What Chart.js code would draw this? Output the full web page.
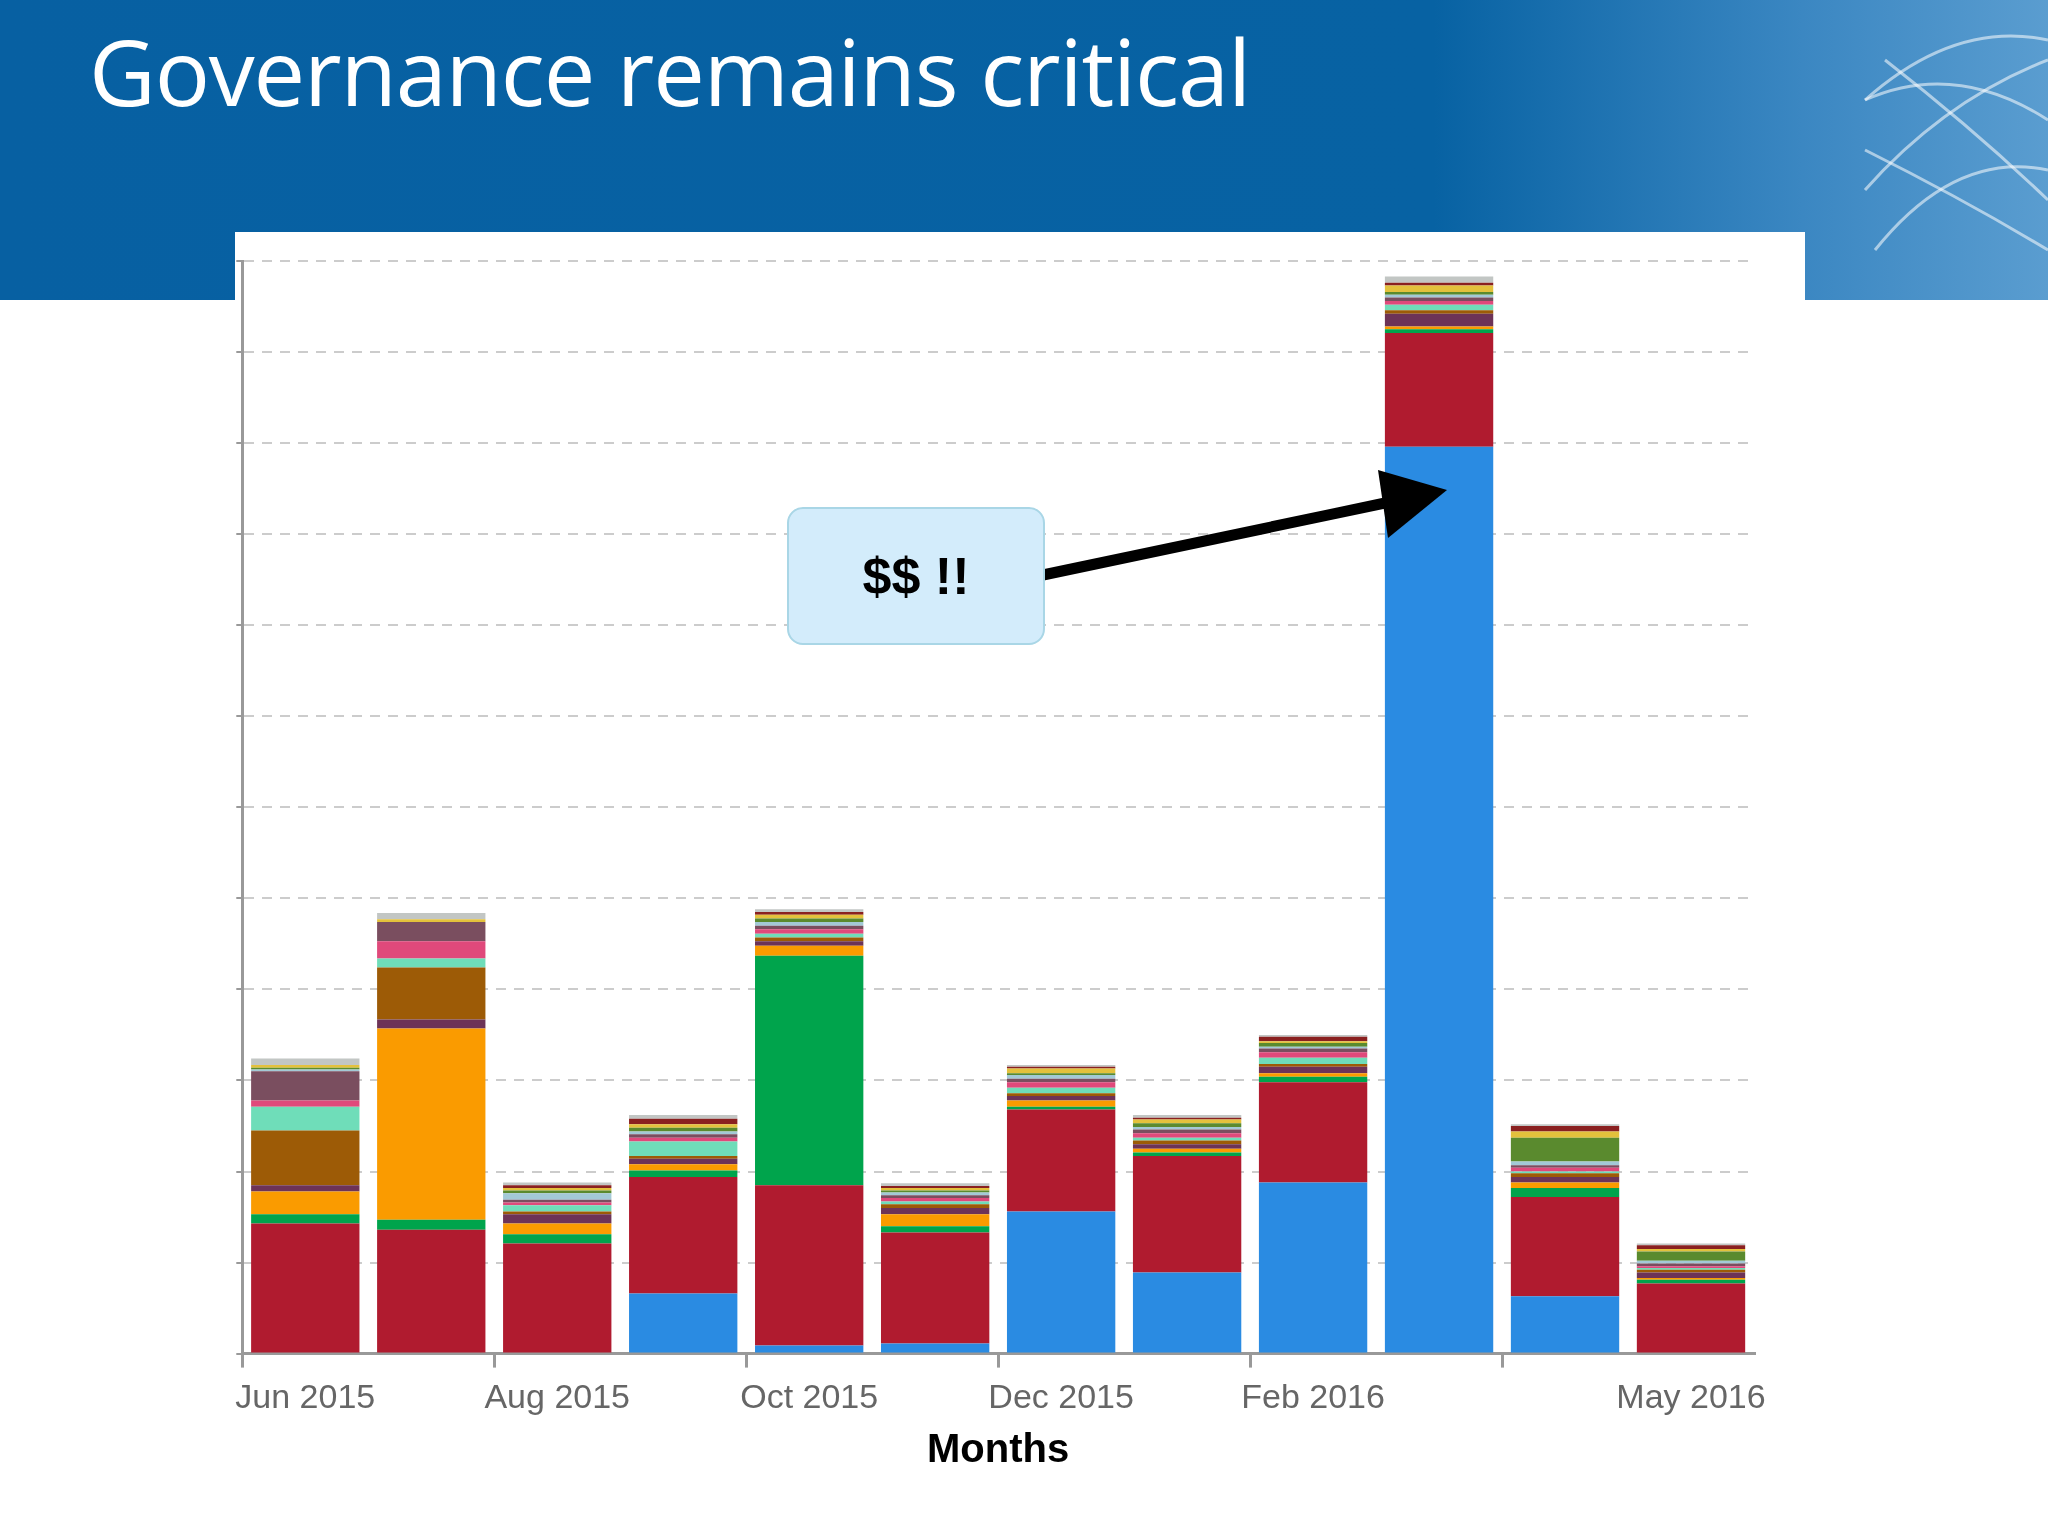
<!DOCTYPE html>
<html><head><meta charset="utf-8">
<script src="https://cdn.jsdelivr.net/npm/chart.js@4/dist/chart.umd.min.js"></script>
<style>
html,body{margin:0;padding:0;width:2048px;height:1536px;overflow:hidden;background:#fff;font-family:"Liberation Sans",Arial,sans-serif}
#hdr{position:absolute;left:0;top:0;width:2048px;height:300px;background:linear-gradient(90deg,#0760a2 0%,#0762a3 70%,#3b87c2 88%,#5a9dd0 100%)}
#title{position:absolute;left:89px;top:8px;color:#fff;font-family:"Open Sans",sans-serif;font-size:92px;letter-spacing:-1.2px}
#panel{position:absolute;left:235px;top:232px;width:1570px;height:1304px;background:#fff}
#c{position:absolute;left:-4px;top:0}
#deco{position:absolute;left:1805px;top:0;width:243px;height:300px}
#ov{position:absolute;left:0;top:0;width:2048px;height:1536px;pointer-events:none}
#box{position:absolute;left:787px;top:507px;width:254px;height:134px;background:#d3ecfb;border:2px solid #a9d6e6;border-radius:16px;display:flex;align-items:center;justify-content:center;font:bold 52px "Liberation Sans",Arial,sans-serif;color:#000}
</style></head><body>
<div id="hdr"></div>
<svg id="deco" viewBox="0 0 243 300"><g fill="none" stroke="rgba(255,255,255,0.55)" stroke-width="3">
<path d="M60 100 Q150 20 243 40"/><path d="M60 100 Q150 60 243 120"/><path d="M60 190 Q140 100 243 60"/><path d="M70 250 Q150 150 243 170"/><path d="M60 150 Q160 200 243 250"/><path d="M80 60 Q170 130 243 200"/></g></svg>
<div id="title">Governance remains critical</div>
<div id="panel"><canvas id="c" width="1574" height="1304"></canvas></div>
<svg id="ov" viewBox="0 0 2048 1536">
<line x1="1043" y1="575" x2="1390" y2="502" stroke="#000" stroke-width="11"/>
<polygon points="1447,490 1378,470 1388,538" fill="#000"/>
</svg>
<div id="box">$$ !!</div>
<script>
const months=["Jun 2015","Jul 2015","Aug 2015","Sep 2015","Oct 2015","Nov 2015","Dec 2015","Jan 2016","Feb 2016","Mar 2016","Apr 2016","May 2016"];
const shownLabels=["Jun 2015","Aug 2015","Oct 2015","Dec 2015","Feb 2016","May 2016"];
const blue=[0,0,0,.66,.09,.11,1.56,.89,1.88,9.96,.63,0];
const red=[1.43,1.36,1.21,1.28,1.76,1.22,1.12,1.28,1.10,1.25,1.09,.77];
const green=[.10,.11,.10,.07,2.52,.07,.03,.04,.06,.04,.10,.04];
const orange=[.25,2.1,.12,.07,.11,.13,.07,.04,.04,.03,.06,.02];
const plum=[.07,.10,.10,.06,.05,.07,.05,.05,.07,.14,.06,.06];
const brown=[.60,.57,.03,.03,.04,.04,.03,.04,.03,.04,.04,.03];
const mint=[.26,.10,.07,.16,.04,.03,.06,.03,.07,.06,.02,.02];
const pink=[.07,.19,.03,.04,.05,.04,.06,.05,.06,.04,.04,.02];
const mauve=[.32,.21,.03,.04,.04,.03,.04,.04,.04,.04,.03,.03];
const lightblue=[.02,0,.07,.03,.04,.03,.04,.03,.02,.03,.04,.03];
const olive=[.02,0,.03,.04,.04,.02,.02,.04,.04,.03,.26,.10];
const yellow=[.03,.03,.03,.04,.04,.03,.05,.04,.02,.07,.07,.03];
const darkred=[0,0,.03,.06,.03,.02,.02,.02,.05,.03,.06,.04];
const gray=[.07,.07,.03,.04,.03,.03,.02,.03,.02,.07,.02,.02];
const series=[["blue",blue,"#2a8be2"],["red",red,"#b01b2f"],["green",green,"#00a44c"],["orange",orange,"#fa9b00"],["plum",plum,"#6d3357"],["brown",brown,"#9d5b06"],["mint",mint,"#6fddb9"],["pink",pink,"#e0497b"],["mauve",mauve,"#7a4e5f"],["lightblue",lightblue,"#a3c9d6"],["olive",olive,"#5a8a2e"],["yellow",yellow,"#e3c13c"],["darkred",darkred,"#8a2020"],["gray",gray,"#c2c6c4"]];
new Chart(document.getElementById('c'),{type:'bar',
data:{labels:months,datasets:series.map(s=>({label:s[0],data:s[1],backgroundColor:s[2],borderWidth:0,barPercentage:0.86,categoryPercentage:1}))},
options:{responsive:false,animation:false,layout:{padding:{left:2,top:29,right:51,bottom:57}},
plugins:{legend:{display:false},tooltip:{enabled:false}},
scales:{
x:{stacked:true,offset:true,
 grid:{offset:true,drawOnChartArea:false,tickLength:14,lineWidth:3,color:c=>(c.index%2===0||c.index===12)?'#999':'rgba(0,0,0,0)'},
 border:{color:'#999',width:3},
 ticks:{autoSkip:false,maxRotation:0,color:'#666',font:{size:34,family:'Liberation Sans',lineHeight:1.6},padding:4,callback:function(v,i){const l=months[i];return shownLabels.includes(l)?l:'';}},
 title:{display:true,text:'Months',color:'#000',font:{size:40,weight:'bold',family:'Liberation Sans'},padding:{top:-3}}},
y:{stacked:true,min:0,max:12,
 ticks:{stepSize:1,display:false},
 grid:{color:'#cccccc',lineWidth:2,tickLength:6,tickColor:'#999'},
 border:{color:'#999',width:3,dash:[10,8]}}
}}});
</script>
</body></html>
